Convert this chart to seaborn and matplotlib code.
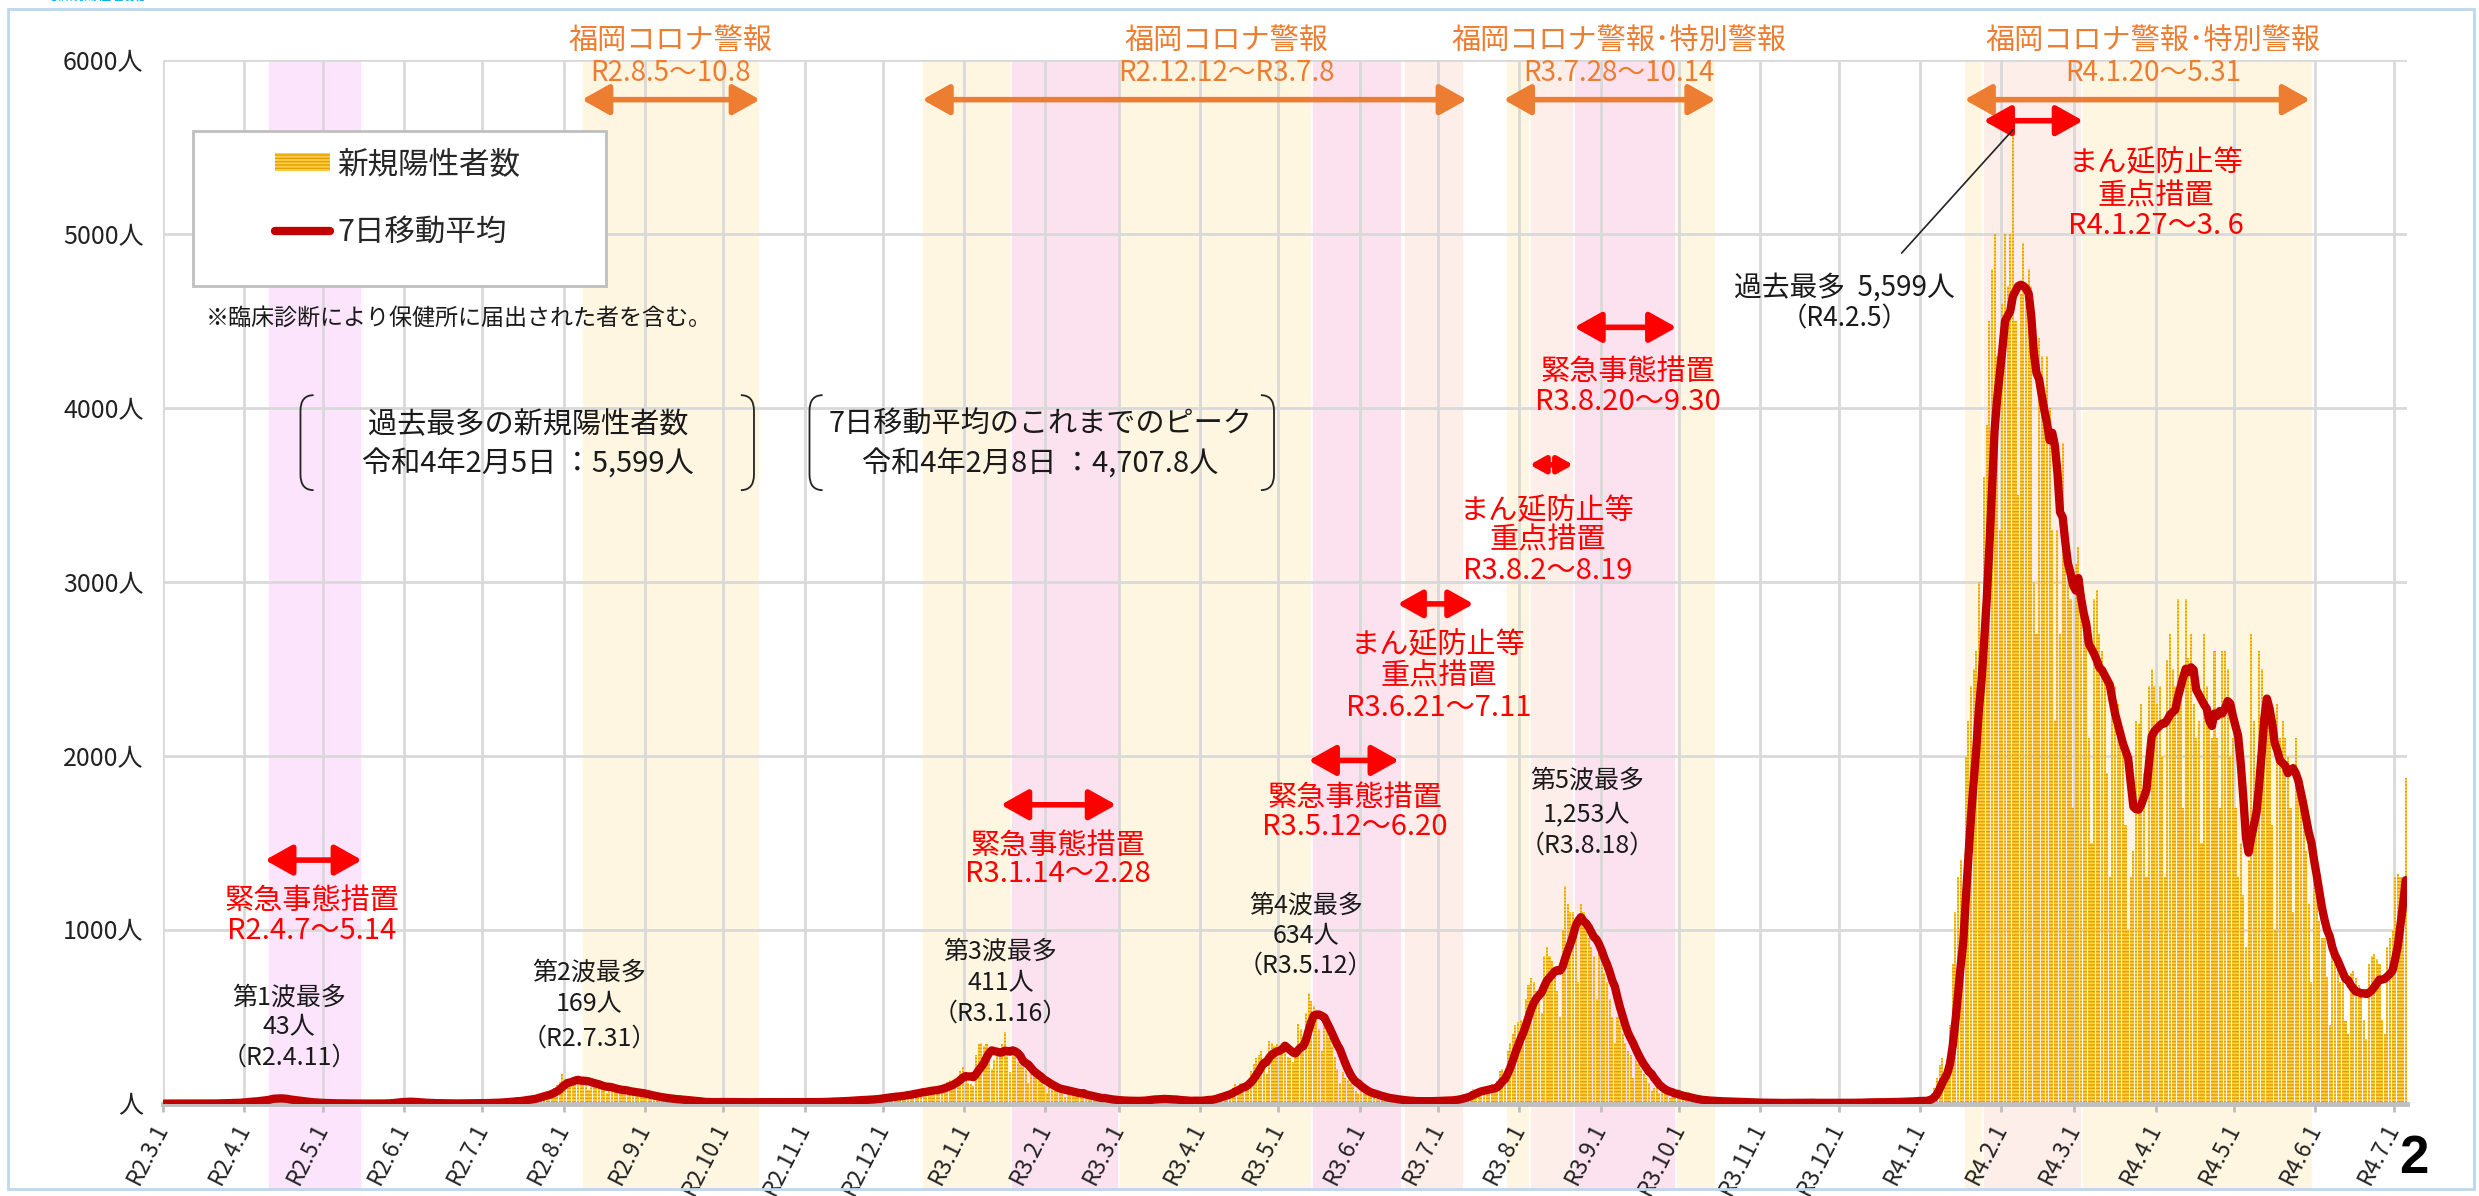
"""
plot.py
Fukuoka: daily new positive cases (bars) and 7-day moving average (line).
Saves out.png (2479x1196).
"""

import numpy as np
import pandas as pd
import matplotlib
matplotlib.use("Agg")
import matplotlib.pyplot as plt
import matplotlib.patches as mpatches
import matplotlib.transforms as mtransforms
from matplotlib.lines import Line2D
from matplotlib.path import Path
import seaborn as sns

# ── Data: daily new cases from R2.3.1 (2020-03-01), 10 days per row ─────────
cases_2020 = [
    # Mar
    0, 0, 0, 0, 0, 0, 0, 0, 0, 0, 0, 0, 0, 0, 0, 0, 0, 0, 1, 2,
    1, 3, 2, 1, 4, 2, 5, 6, 8, 7, 12,
    # Apr
    10, 14, 16, 15, 12, 18, 22, 26, 30, 28, 43, 30, 24, 26, 28, 22, 18, 20, 16, 14,
    12, 9, 10, 7, 6, 4, 5, 3, 4, 2,
    # May
    2, 1, 3, 1, 0, 1, 2, 0, 1, 0, 0, 1, 0, 0, 0, 0, 0, 0, 0, 0,
    0, 0, 1, 2, 3, 4, 7, 10, 12, 14, 11,
    # Jun
    9, 12, 8, 6, 7, 5, 3, 4, 2, 3, 2, 1, 2, 1, 0, 1, 2, 1, 0, 1,
    0, 1, 2, 1, 0, 1, 2, 3, 2, 4,
    # Jul
    3, 5, 4, 6, 3, 7, 9, 12, 10, 11, 14, 12, 18, 20, 16, 25, 28, 30, 24, 35,
    40, 48, 55, 62, 58, 50, 75, 90, 105, 125, 169,
    # Aug
    140, 128, 95, 130, 145, 150, 135, 140, 118, 80, 95, 115, 120, 110, 98, 82, 60, 90, 98, 85,
    80, 75, 60, 55, 72, 70, 68, 62, 58, 48, 42,
    # Sep
    45, 50, 42, 38, 36, 30, 18, 33, 30, 28, 26, 22, 18, 15, 20, 22, 18, 14, 12, 9,
    8, 6, 7, 10, 12, 9, 8, 5, 11, 9,
    # Oct
    10, 8, 9, 7, 4, 8, 11, 10, 9, 7, 6, 5, 9, 11, 10, 8, 9, 5, 4, 10,
    12, 9, 8, 10, 6, 4, 9, 11, 10, 8, 7,
    # Nov
    6, 5, 8, 12, 14, 11, 9, 7, 6, 15, 16, 18, 15, 14, 12, 8, 20, 24, 22, 25,
    20, 18, 14, 22, 30, 28, 35, 32, 26, 25,
    # Dec
    40, 45, 42, 50, 48, 35, 30, 55, 60, 65, 62, 70, 58, 50, 75, 80, 78, 85, 88, 70,
    65, 95, 105, 110, 125, 135, 105, 130, 160, 185, 210,
]

cases_2021 = [
    # Jan
    180, 120, 110, 100, 280, 340, 350, 330, 340, 300, 200, 250, 320, 310, 340, 411, 280, 180, 300, 280,
    240, 220, 210, 200, 120, 170, 160, 150, 140, 130, 100,
    # Feb
    60, 100, 95, 90, 85, 80, 70, 40, 75, 70, 65, 60, 55, 50, 45, 25, 45, 40, 38, 30,
    28, 15, 30, 25, 22, 20, 18, 12,
    # Mar
    10, 22, 18, 20, 15, 14, 12, 8, 25, 22, 28, 30, 26, 24, 15, 30, 35, 28, 25, 22,
    20, 12, 18, 20, 22, 16, 14, 10, 15, 20, 18,
    # Apr
    20, 25, 28, 22, 18, 40, 45, 55, 60, 58, 62, 50, 90, 110, 100, 120, 115, 95, 130, 190,
    230, 260, 280, 300, 250, 170, 360, 350, 330, 340,
    # May
    330, 320, 300, 270, 260, 240, 300, 460, 430, 350, 520, 634, 590, 560, 500, 430, 300, 460, 420, 380,
    330, 270, 200, 120, 180, 150, 135, 120, 100, 75, 55,
    # Jun
    80, 70, 60, 55, 50, 40, 25, 45, 35, 30, 28, 25, 22, 12, 25, 20, 18, 15, 14, 12,
    8, 14, 16, 18, 15, 14, 12, 7, 20, 18,
    # Jul
    20, 22, 18, 15, 10, 25, 30, 35, 40, 45, 38, 45, 70, 85, 80, 90, 85, 60, 70, 95,
    110, 100, 130, 190, 200, 160, 300, 350, 400, 450, 470,
    # Aug
    480, 400, 600, 680, 720, 700, 650, 600, 520, 850, 900, 850, 820, 780, 650, 500, 1000, 1253, 1150, 1100,
    1100, 1050, 700, 1150, 1100, 1050, 950, 900, 850, 600, 950,
    # Sep
    850, 750, 700, 600, 500, 350, 500, 450, 400, 350, 300, 280, 150, 260, 230, 200, 170, 150, 120, 70,
    90, 100, 60, 80, 70, 55, 30, 60, 50, 45,
    # Oct
    40, 38, 30, 15, 28, 25, 22, 20, 18, 16, 8, 15, 18, 14, 12, 16, 10, 5, 12, 13,
    10, 9, 11, 8, 4, 7, 6, 8, 5, 6, 4,
    # Nov
    2, 5, 3, 6, 4, 5, 3, 1, 4, 6, 5, 3, 7, 4, 6, 2, 5, 8, 6, 4,
    3, 1, 2, 5, 6, 4, 7, 5, 2, 4,
    # Dec
    5, 6, 4, 7, 3, 2, 8, 6, 5, 9, 10, 7, 4, 8, 9, 11, 6, 8, 12, 6,
    9, 11, 13, 10, 12, 14, 8, 15, 18, 16, 20,
]

cases_2022 = [
    # Jan
    14, 12, 15, 40, 60, 90, 150, 220, 260, 200, 250, 450, 800, 1100, 1300, 1400, 1150, 2000, 2200, 2400,
    2500, 2600, 3000, 2300, 3600, 3900, 4500, 4800, 5000, 4300, 3300,
    # Feb
    4600, 5000, 4700, 5000, 5599, 4500, 3500, 4656, 4950, 4600, 4800, 4700, 3000, 2700, 4400, 4300, 4000, 4300, 4000, 3300,
    2200, 3300, 2700, 3800, 3300, 3150, 2900, 1700,
    # Mar
    3100, 3200, 3000, 2700, 2700, 2100, 1500, 2900, 2950, 2700, 2600, 2500, 1900, 1300, 2300, 2400, 2300, 2200, 2100, 1600,
    1000, 1300, 1450, 2200, 2180, 2300, 1900, 1300, 2400, 2500, 2400,
    # Apr
    2300, 2400, 2000, 1300, 2550, 2700, 2500, 2400, 2900, 2400, 1700, 2900, 2560, 2700, 2300, 2100, 2200, 1500, 2700, 2400,
    2200, 2100, 2600, 2100, 1700, 2600, 2600, 2500, 2000, 2100,
    # May
    1700, 1300, 1500, 1200, 900, 1400, 2700, 2200, 1800, 2600, 2500, 2300, 2200, 2300, 1600, 1000, 2300, 2100, 2200, 2100,
    2000, 1700, 1100, 2100, 1800, 1700, 1600, 1450, 1150, 700, 1400,
    # Jun
    1200, 1050, 950, 950, 730, 450, 950, 900, 845, 700, 700, 475, 400, 750, 760, 720, 680, 650, 480, 370,
    800, 850, 860, 830, 800, 480, 400, 900, 950, 1000,
    # Jul
    1300, 1320, 1300, 1250, 1870,
]

assert len(cases_2020) == 306 and len(cases_2021) == 365 and len(cases_2022) == 186

tick_labels = [
    "R2.3.1", "R2.4.1", "R2.5.1", "R2.6.1", "R2.7.1", "R2.8.1", "R2.9.1", "R2.10.1",
    "R2.11.1", "R2.12.1", "R3.1.1", "R3.2.1", "R3.3.1", "R3.4.1", "R3.5.1", "R3.6.1",
    "R3.7.1", "R3.8.1", "R3.9.1", "R3.10.1", "R3.11.1", "R3.12.1", "R4.1.1", "R4.2.1",
    "R4.3.1", "R4.4.1", "R4.5.1", "R4.6.1", "R4.7.1",
]
y_labels = ["人", "1000人", "2000人", "3000人", "4000人", "5000人", "6000人"]

# shaded periods as drawn in the chart (start edge, end edge)
lavender_periods = [("2020-04-10", "2020-05-16")]
alert_periods = [("2020-08-08", "2020-10-15"), ("2020-12-16", "2021-07-09"),
                 ("2021-07-27", "2021-10-15"), ("2022-01-18", "2022-05-31")]
emergency_periods = [("2021-01-19", "2021-03-01"), ("2021-05-14", "2021-06-17"),
                     ("2021-08-22", "2021-09-30")]
priority_periods = [("2021-06-18", "2021-07-11"), ("2021-08-05", "2021-08-22"),
                    ("2022-01-25", "2022-03-04")]

# ── Setup ────────────────────────────────────────────────────────────────────
sns.set_theme(style="white")
plt.rcParams["font.family"] = ["Noto Sans CJK JP", "DejaVu Sans"]
plt.rcParams["hatch.linewidth"] = 1.1

start = pd.Timestamp("2020-03-01")
cases = cases_2020 + cases_2021 + cases_2022
df = pd.DataFrame({"date": pd.date_range(start, periods=len(cases)), "cases": cases})
df["day"] = np.arange(len(df)) + 0.5
df["avg7"] = df["cases"].rolling(7, min_periods=1).mean()


def d(s):
    return (pd.Timestamp(s) - start).days


ORANGE = "#ED7D31"
RED = "#FF0000"
DARK = "#1A1A1A"
BAR_FACE = "#FFD24A"
BAR_HATCH = "#E8A000"
LINE_RED = "#C00000"

W, H = 2479, 1196
fig = plt.figure(figsize=(W / 100, H / 100), dpi=100)
ax = fig.add_axes([163 / W, 1 - 1103.6 / H, 2244 / W, 1043.6 / H])

# ── Background bands (run below the axis into the label area) ────────────────
trans = mtransforms.blended_transform_factory(ax.transData, ax.transAxes)
for periods, col in [(lavender_periods, "#FCE4FC"), (alert_periods, "#FFF6E1"),
                     (emergency_periods, "#FCE1EF"), (priority_periods, "#FDEEEA")]:
    for s, e in periods:
        ax.add_patch(mpatches.Rectangle((d(s), -0.085), d(e) - d(s), 1.085, transform=trans,
                                        facecolor=col, edgecolor="white", lw=1.2,
                                        zorder=0.2, clip_on=False))

# ── Bars + moving average ────────────────────────────────────────────────────
ax.bar(df["day"], df["cases"], width=0.8, color=BAR_FACE, edgecolor=BAR_HATCH,
       linewidth=0, hatch="-----", zorder=2)
sns.lineplot(x=df["day"], y=df["avg7"], ax=ax, color=LINE_RED, lw=6, zorder=3,
             legend=False)

# ── Axes ─────────────────────────────────────────────────────────────────────
month_starts = pd.date_range("2020-03-01", "2022-07-01", freq="MS")
ax.set_xlim(0, len(df))
ax.set_ylim(0, 6000)
ax.set_xticks([d(m) for m in month_starts])
ax.set_xticklabels(tick_labels, rotation=63, ha="right", va="center",
                   rotation_mode="anchor", fontsize=16.5, color="#222222")
ax.set_yticks(range(0, 7000, 1000))
ax.set_yticklabels(y_labels, fontsize=18, color="#222222")
ax.set_xlabel("")
ax.set_ylabel("")
ax.grid(True, color="#D9D9D9", lw=2)
ax.set_axisbelow(True)
for side in ["top", "left", "right"]:
    ax.spines[side].set_visible(False)
ax.spines["bottom"].set_color("#BFBFBF")
ax.spines["bottom"].set_linewidth(3.5)
ax.tick_params(axis="x", length=6, width=2, color="#BFBFBF", pad=9, bottom=True)
ax.tick_params(axis="y", length=0, pad=14)
ax.set_facecolor("white")


# ── Annotations ──────────────────────────────────────────────────────────────
def put(x, y, s, color, size, ha="center"):
    ax.text(x, y, s, color=color, fontsize=size, ha=ha, va="center", zorder=6, clip_on=False)


def harrow(x0, x1, y, color, scale=22):
    ax.annotate("", xy=(x1, y), xytext=(x0, y), zorder=5,
                arrowprops=dict(arrowstyle="<|-|>,head_length=0.75,head_width=0.42",
                                mutation_scale=scale, lw=4, color=color,
                                shrinkA=0, shrinkB=0))


def bracket(x, top, bottom, side):
    hook, r = 5 * side, 90
    verts = [(x + hook, top), (x, top), (x, top - r), (x, bottom + r), (x, bottom), (x + hook, bottom)]
    codes = [Path.MOVETO, Path.CURVE3, Path.CURVE3, Path.LINETO, Path.CURVE3, Path.CURVE3]
    ax.add_patch(mpatches.PathPatch(Path(verts, codes), fill=False, lw=1.3,
                                    edgecolor="#222222", zorder=6))


# alert periods (orange)
for x0, x1, xc, title, span in [
    (160, 228, 193.7, "福岡コロナ警報", "R2.8.5～10.8"),
    (290, 498, 406.2, "福岡コロナ警報", "R2.12.12～R3.7.8"),
    (512, 593, 555.9, "福岡コロナ警報･特別警報", "R3.7.28～10.14"),
    (688, 820, 760.0, "福岡コロナ警報･特別警報", "R4.1.20～5.31"),
]:
    harrow(x0, x1, 5772, ORANGE)
    put(xc, 6109, title, ORANGE, 21)
    put(xc, 5927, span, ORANGE, 20)

# emergency / priority measures (red)
for x0, x1, ya, sc, xc, lines, ys in [
    (39, 76, 1400, 22, 56.7, ["緊急事態措置", "R2.4.7～5.14"], [1164, 991]),
    (320, 364, 1718, 22, 341.6, ["緊急事態措置", "R3.1.14～2.28"], [1482, 1319]),
    (437.5, 472, 1973, 22, 455.1, ["緊急事態措置", "R3.5.12～6.20"], [1755, 1591]),
    (471.5, 500.5, 2873, 20, 487.1, ["まん延防止等", "重点措置", "R3.6.21～7.11"], [2637, 2454, 2272]),
    (522, 538.5, 3673, 12, 528.7, ["まん延防止等", "重点措置", "R3.8.2～8.19"], [3409, 3236, 3063]),
    (539, 578, 4463, 22, 559.5, ["緊急事態措置", "R3.8.20～9.30"], [4209, 4036]),
    (695.3, 733.3, 5651, 22, 761.2, ["まん延防止等", "重点措置", "R4.1.27～3. 6"], [5409, 5218, 5045]),
]:
    harrow(x0, x1, ya, RED, sc)
    for s, y in zip(lines, ys):
        put(xc, y, s, RED, 21)

# wave peaks (black)
for xc, lines, ys in [
    (48.2, ["第1波最多", "43人", "（R2.4.11）"], [610, 437, 264]),
    (162.9, ["第2波最多", "169人", "（R2.7.31）"], [755, 573, 373]),
    (319.9, ["第3波最多", "411人", "（R3.1.16）"], [873, 691, 519]),
    (436.4, ["第4波最多", "634人", "（R3.5.12）"], [1137, 964, 791]),
    (543.8, ["第5波最多", "1,253人", "（R3.8.18）"], [1855, 1664, 1482]),
]:
    for s, y in zip(lines, ys):
        put(xc, y, s, DARK, 18)

put(642.2, 4691, "過去最多  5,599人", DARK, 20)
put(642.2, 4509, "（R4.2.5）", DARK, 19)
peak_i = int(np.argmax(df["cases"].values))
ax.annotate("", xy=(df["day"][peak_i], df["cases"][peak_i]), xytext=(664, 4890), zorder=6,
            arrowprops=dict(arrowstyle="-", color="#222222", lw=1.2, shrinkA=0, shrinkB=0))

put(16.2, 4518, "※臨床診断により保健所に届出された者を含む。", DARK, 16.6, ha="left")

put(139.4, 3900, "過去最多の新規陽性者数", DARK, 21)
put(139.4, 3673, "令和4年2月5日 ：5,599人", DARK, 21)
bracket(52.5, 4073, 3527, 1)
bracket(225.7, 4073, 3527, -1)
put(335.0, 3900, "7日移動平均のこれまでのピーク", DARK, 21)
put(335.0, 3673, "令和4年2月8日 ：4,707.8人", DARK, 21)
bracket(246.9, 4073, 3527, 1)
bracket(424.3, 4073, 3527, -1)

# ── Legend with its own box ──────────────────────────────────────────────────
ax.add_patch(mpatches.Rectangle((30 / 2244, 1 - 225.7 / 1043.6), 413 / 2244, 155 / 1043.6,
                                transform=ax.transAxes, facecolor="white",
                                edgecolor="#BFBFBF", lw=2, zorder=7))
handles = [
    mpatches.Patch(facecolor=BAR_FACE, edgecolor=BAR_HATCH, linewidth=0, hatch="-----",
                   label="新規陽性者数"),
    Line2D([0], [0], color=LINE_RED, lw=6, solid_capstyle="round", label="7日移動平均"),
]
leg = ax.legend(handles=handles, loc="upper left",
                bbox_to_anchor=((274.5 - 163) / 2244, 1 - (149 - 60) / 1043.6),
                frameon=False, fontsize=22, handlelength=1.8, handleheight=0.55,
                handletextpad=0.25, labelspacing=1.2, borderpad=0, borderaxespad=0)
leg.set_zorder(8)

# ── Page decorations ─────────────────────────────────────────────────────────
fig.add_artist(mpatches.Rectangle((8 / W, 1 - 1189 / H), 2466 / W, 1180 / H,
                                  transform=fig.transFigure, fill=False,
                                  edgecolor="#BDD7EE", lw=2))
fig.text(43 / W, 1 - 3 / H, "【新規陽性者数】", color="#00B0F0", fontsize=10,
         ha="left", va="bottom")
fig.text(2414 / W, 1 - 1159 / H, "2", fontsize=38, fontweight="bold", color="black",
         ha="center", va="center", family=["Liberation Sans", "DejaVu Sans"])

fig.savefig("out.png", dpi=100)
